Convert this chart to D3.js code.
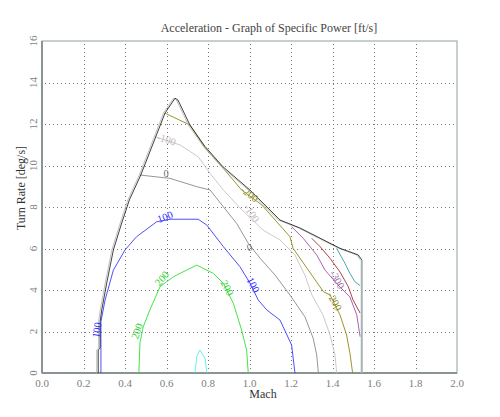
<!DOCTYPE html>
<html>
<head>
<meta charset="utf-8">
<script src="https://cdn.jsdelivr.net/npm/d3@7"></script>
<style>
  html, body { margin: 0; padding: 0; background: #fff; }
  svg { display: block; }
  text { font-family: "Liberation Serif", "DejaVu Serif", serif; }
</style>
</head>
<body>
<svg id="chart" width="500" height="417"></svg>
<script>
// ---------- data ----------
const title = "Acceleration - Graph of Specific Power [ft/s]";
const xLabel = "Mach";
const yLabel = "Turn Rate [deg/s]";
const xTicks = [0.0, 0.2, 0.4, 0.6, 0.8, 1.0, 1.2, 1.4, 1.6, 1.8, 2.0];
const yTicks = [0, 2, 4, 6, 8, 10, 12, 14, 16];

// flight envelope (Mach, turn rate)
const envelope = [[0.271,0],[0.271,1.11],[0.280,1.2],[0.280,2.47],[0.288,3.04],[0.312,4.34],
  [0.344,5.93],[0.381,7.13],[0.421,8.34],[0.476,9.54],[0.593,12.53],[0.641,13.24],[0.655,13.16],
  [0.713,11.95],[0.786,10.91],[0.872,9.94],[1.002,8.82],[1.147,7.37],[1.243,6.99],[1.436,6.01],
  [1.524,5.69],[1.541,5.45]];
const maxMachLine = [[1.541,5.45],[1.541,0]];

// specific power contours
const psM200 = [[0.593,12.52],[0.713,11.95],[0.786,10.84],[0.872,9.88],[0.962,8.82],[1.059,8.1],
  [1.195,6.57],[1.21,6.01],[1.356,3.92],[1.388,3.76],[1.436,2.8],[1.468,1.83],[1.484,0.95],[1.497,0]];
const psM100 = [[0.545,11.39],[0.665,10.99],[0.753,10.42],[0.810,9.62],[0.874,8.82],[0.96,7.9],
  [1.065,6.89],[1.147,6.41],[1.219,5.69],[1.267,4.72],[1.301,3.76],[1.354,2.8],[1.388,1.83],
  [1.412,0.87],[1.420,0]];
const ps0 = [[0.472,9.54],[0.617,9.38],[0.746,8.98],[0.81,8.82],[0.874,8.01],[0.938,7.21],
  [0.994,6.25],[1.051,5.53],[1.123,4.72],[1.195,3.76],[1.267,2.71],[1.307,1.67],[1.324,0.87],[1.332,0]];
const ps100 = [[0.284,0],[0.284,2.47],[0.304,3.52],[0.344,4.96],[0.4,5.93],[0.456,6.57],[0.553,7.29],
  [0.617,7.41],[0.753,7.41],[0.794,7.13],[0.874,6.09],[0.954,5.12],[1.002,4.34],[1.042,3.52],
  [1.083,3.04],[1.147,2.55],[1.203,1.35],[1.219,0]];
const ps200 = [[0.467,0],[0.472,1.45],[0.488,2.23],[0.520,3.04],[0.569,4.16],[0.633,4.64],[0.746,5.2],
  [0.826,4.8],[0.874,4.32],[0.922,3.36],[0.962,2.07],[0.986,1.11],[0.994,0]];
const ps300 = [[0.737,0],[0.746,0.79],[0.761,1.11],[0.786,0.71],[0.794,0]];
const psM300 = [[1.203,7.05],[1.259,6.49],[1.324,5.69],[1.364,4.96],[1.427,4.24],[1.484,3.66],
  [1.517,2.8],[1.533,1.75]];
const psM400 = [[1.30,6.49],[1.34,6.09],[1.388,5.53],[1.436,4.87],[1.476,4.16],[1.499,3.52],[1.533,2.89]];
const psM500 = [[1.42,6.01],[1.46,5.29],[1.484,4.80],[1.508,4.4],[1.533,4.21]];

// contour labels: [text, mach, turnRate, angle]
const labelsM200 = [["-200",1.0,8.62,38],["-200",1.41,3.45,62]];
const labelsM100 = [["-100",0.6,11.25,18],["-100",1.01,7.7,58]];
const labels0 = [["0",0.598,9.62,0],["0",1.0,6.05,-20]];
const labels100 = [["100",0.265,2.07,-82],["100",0.593,7.52,-20],["100",1.017,4.24,62]];
const labels200 = [["200",0.458,2.02,-70],["200",0.578,4.55,-50],["200",0.892,4.1,62]];
const labelsM300 = [["-300",1.422,4.5,60]];

// ---------- drawing ----------
const svg = d3.select("#chart");
const x = d3.scaleLinear().domain([0, 2]).range([42, 457]);
const y = d3.scaleLinear().domain([0, 16]).range([373, 41]);
const line = d3.line().x(d => x(d[0])).y(d => y(d[1]));

// grid
const g = svg.append("g").attr("shape-rendering", "crispEdges");
g.selectAll(".vg").data(xTicks.slice(1, -1)).join("line")
  .attr("x1", d => Math.round(x(d)) + 0.5).attr("x2", d => Math.round(x(d)) + 0.5)
  .attr("y1", y(16) + 3).attr("y2", y(0) - 1)
  .attr("stroke", "#777").attr("stroke-width", 1).attr("stroke-dasharray", "1,3");
g.selectAll(".hg").data(yTicks.slice(1, -1)).join("line")
  .attr("y1", d => Math.round(y(d)) + 0.5).attr("y2", d => Math.round(y(d)) + 0.5)
  .attr("x1", x(0) + 3).attr("x2", x(2) - 3)
  .attr("stroke", "#777").attr("stroke-width", 1).attr("stroke-dasharray", "1,3");

// frame
svg.append("rect").attr("x", x(0)).attr("y", y(16)).attr("width", x(2) - x(0)).attr("height", y(0) - y(16))
  .attr("fill", "none").attr("stroke", "#a4b0b0").attr("stroke-width", 1.2);
svg.append("line").attr("x1", x(0)).attr("x2", x(0)).attr("y1", y(16)).attr("y2", y(0))
  .attr("stroke", "#8a9494").attr("stroke-width", 2);
svg.append("line").attr("x1", x(0)).attr("x2", x(2)).attr("y1", y(0)).attr("y2", y(0))
  .attr("stroke", "#8a9494").attr("stroke-width", 2);

// contours
const contours = [
  [psM100, "#c8c2c2"],
  [ps0, "#8a8a8a"],
  [psM200, "#8c8a14"],
  [ps100, "#3a3aff"],
  [ps200, "#30e030"],
  [ps300, "#50f0f0"],
  [psM300, "#a050a8"],
  [psM400, "#a03030"],
  [psM500, "#30a0a0"]
];
contours.forEach(([data, color]) => {
  svg.append("path").datum(data).attr("d", line)
    .attr("fill", "none").attr("stroke", color).attr("stroke-width", 0.9);
});

// envelope
svg.append("path").datum(envelope).attr("d", line)
  .attr("fill", "none").attr("stroke", "#b0b0b0").attr("stroke-width", 0.8)
  .attr("transform", "translate(-1.5,0)");
svg.append("path").datum(envelope).attr("d", line)
  .attr("fill", "none").attr("stroke", "#111").attr("stroke-width", 0.8);
svg.append("path").datum(maxMachLine).attr("d", line)
  .attr("fill", "none").attr("stroke", "#a4b4b4").attr("stroke-width", 2);

// contour labels
const labelSets = [
  [labelsM200, "#8c8a14"], [labelsM100, "#c0baba"], [labels0, "#707070"],
  [labels100, "#2a2aff"], [labels200, "#30d030"], [labelsM300, "#a070a8"]
];
labelSets.forEach(([set, color]) => {
  svg.selectAll(null).data(set).join("text")
    .attr("transform", d => `translate(${x(d[1])},${y(d[2])}) rotate(${d[3]})`)
    .attr("text-anchor", "middle").attr("dominant-baseline", "central")
    .attr("font-size", 10.5).attr("fill", color).text(d => d[0]);
});

// tick labels
svg.selectAll(".xt").data(xTicks).join("text")
  .attr("x", d => x(d)).attr("y", 387).attr("text-anchor", "middle")
  .attr("font-size", 11).attr("fill", "#808080").text(d => d.toFixed(1));
svg.selectAll(".yt").data(yTicks).join("text")
  .attr("transform", d => `translate(37,${y(d)}) rotate(-90)`).attr("text-anchor", "middle")
  .attr("font-size", 11).attr("fill", "#808080").text(d => d);

// titles
svg.append("text").attr("x", 269).attr("y", 32).attr("text-anchor", "middle")
  .attr("font-size", 12).attr("fill", "#444").text(title);
svg.append("text").attr("x", 263).attr("y", 398).attr("text-anchor", "middle")
  .attr("font-size", 12).attr("fill", "#333").text(xLabel);
svg.append("text").attr("transform", "translate(25,188) rotate(-90)").attr("text-anchor", "middle")
  .attr("font-size", 12).attr("fill", "#333").text(yLabel);
</script>
</body>
</html>
